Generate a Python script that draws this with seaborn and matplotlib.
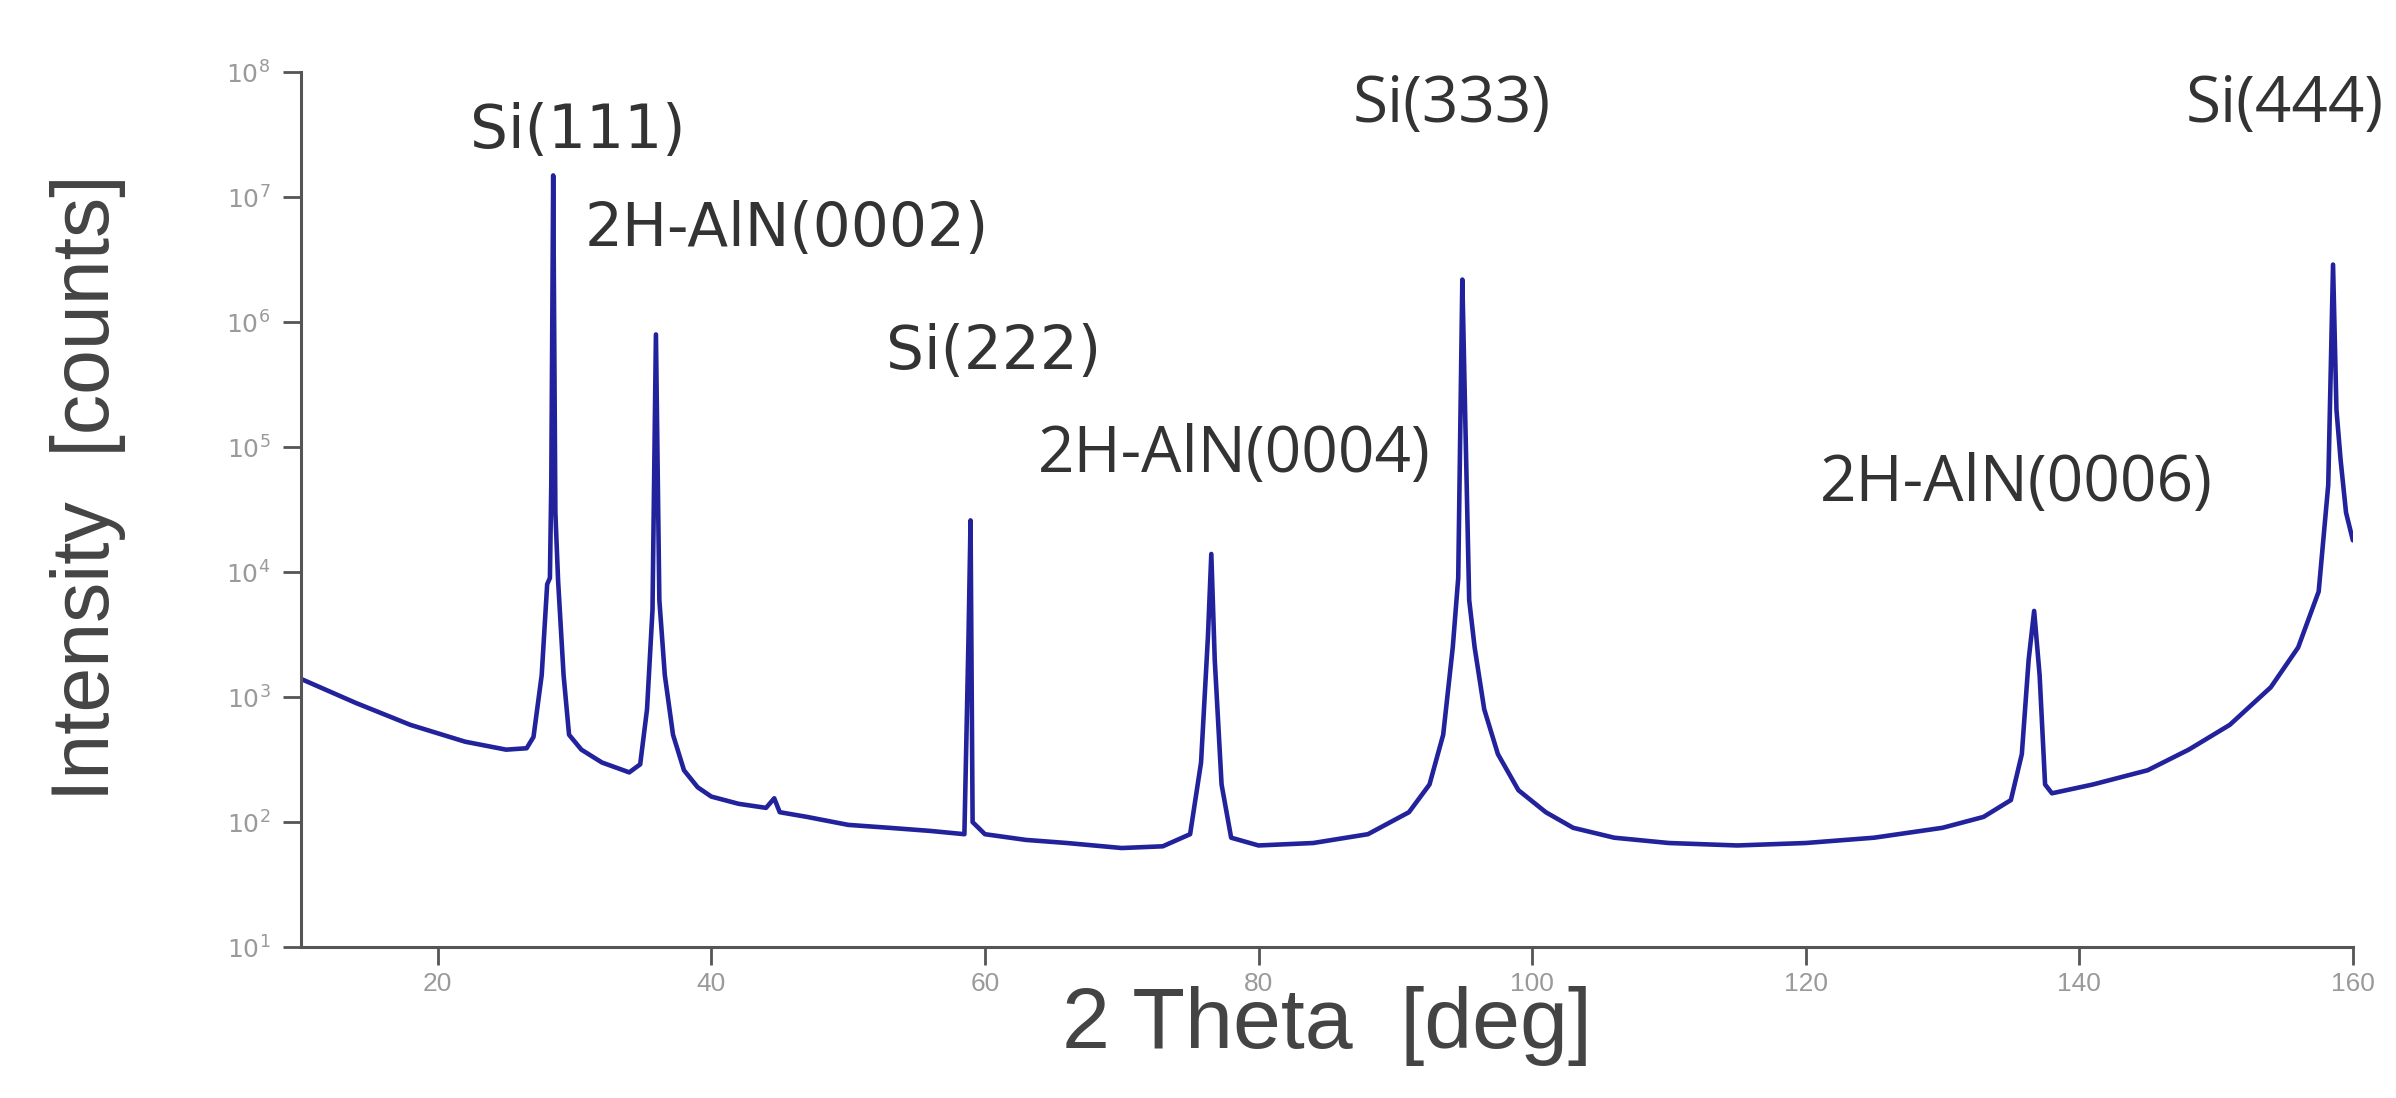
import matplotlib
matplotlib.use("Agg")
import matplotlib.pyplot as plt
import seaborn as sns

# XRD scan, values (2theta in deg, intensity in counts)
two_theta = [10, 14, 18, 22, 25, 26.5, 27, 27.6, 28.0, 28.2, 28.3, 28.44, 28.6, 28.8,
             29.2, 29.6, 30.5, 32, 34, 34.8, 35.3, 35.7, 35.95, 36.2, 36.6, 37.2, 38,
             39, 40, 42, 44, 44.6, 45, 47, 50, 53, 56, 58.5, 58.8, 58.95, 59.1, 60,
             63, 66, 70, 73, 75, 75.8, 76.3, 76.55, 76.8, 77.3, 78, 80, 84, 88, 91,
             92.5, 93.5, 94.2, 94.6, 94.9, 95.1, 95.4, 95.8, 96.5, 97.5, 99, 101, 103,
             106, 110, 115, 120, 125, 130, 133, 135, 135.8, 136.3, 136.7, 137.1, 137.5,
             138, 141, 145, 148, 151, 154, 156, 157.5, 158.2, 158.55, 158.8, 159.1,
             159.5, 160]
counts = [1400, 900, 600, 440, 380, 390, 480, 1500, 8000, 9000, 5e4, 1.5e7, 3e4, 8500,
          1500, 500, 380, 300, 250, 290, 800, 5000, 8e5, 6000, 1500, 500, 260,
          190, 160, 140, 130, 155, 120, 110, 95, 90, 85, 80, 3000, 2.6e4, 100, 80,
          72, 68, 62, 64, 80, 300, 3000, 1.4e4, 2000, 200, 75, 65, 68, 80, 120,
          200, 500, 2500, 9000, 2.2e6, 2e5, 6000, 2500, 800, 350, 180, 120, 90,
          75, 68, 65, 68, 75, 90, 110, 150, 350, 2000, 4900, 1500, 200,
          170, 200, 260, 380, 600, 1200, 2500, 7000, 5e4, 2.9e6, 2e5, 8e4,
          3e4, 1.8e4]

peak_labels = ["Si(111)", "2H-AlN(0002)", "Si(222)", "2H-AlN(0004)",
               "Si(333)", "2H-AlN(0006)", "Si(444)"]
label_x = [30.2, 45.5, 60.6, 78.2, 94.1, 135.4, 155.0]
label_y = [10**7.53, 10**6.74, 10**5.76, 10**4.94, 10**7.74, 10**4.71, 10**7.74]

x_ticks = [20, 40, 60, 80, 100, 120, 140, 160]
y_ticks = [1e1, 1e2, 1e3, 1e4, 1e5, 1e6, 1e7, 1e8]
y_ticklabels = [r"$10^{%d}$" % i for i in range(1, 9)]

sns.set_style("ticks")
plt.rcParams["font.family"] = ["Liberation Sans", "DejaVu Sans"]

fig = plt.figure(figsize=(23.96, 10.98), dpi=100)
ax = fig.add_axes([0.1256, 0.1375, 0.8564, 0.7965])

sns.lineplot(x=two_theta, y=counts, ax=ax, color="#22229c", linewidth=3.3)
ax.set_yscale("log")
ax.set_xlim(10, 160)
ax.set_ylim(10, 1e8)

ax.set_xticks(x_ticks)
ax.set_xticklabels([str(t) for t in x_ticks])
ax.set_yticks(y_ticks)
ax.set_yticklabels(y_ticklabels)
ax.minorticks_off()
ax.tick_params(axis="both", colors="#555555", width=2, length=13, pad=9,
               labelcolor="#9a9a9a")
ax.tick_params(axis="x", labelsize=19, pad=5)
ax.tick_params(axis="y", labelsize=18)

sns.despine(ax=ax)
for side in ["left", "bottom"]:
    ax.spines[side].set_color("#555555")
    ax.spines[side].set_linewidth(2.2)

fonts = ["DejaVu Sans", "DejaVu Sans", "DejaVu Sans", "Open Sans",
         "Open Sans", "Open Sans", "Open Sans"]
for txt, lx, ly, fam in zip(peak_labels, label_x, label_y, fonts):
    ax.text(lx, ly, txt, ha="center", va="center", fontsize=43 if fam == "DejaVu Sans" else 46,
            color="#333333", family=fam, clip_on=False)

ax.set_xlabel("2 Theta  [deg]", fontsize=62, color="#444444", va="center")
ax.set_ylabel("Intensity  [counts]", fontsize=58, color="#444444", va="center")
ax.xaxis.set_label_coords(0.5, -0.09)
ax.yaxis.set_label_coords(-0.104, 0.525)

fig.savefig("out.png", dpi=100, facecolor="white")
